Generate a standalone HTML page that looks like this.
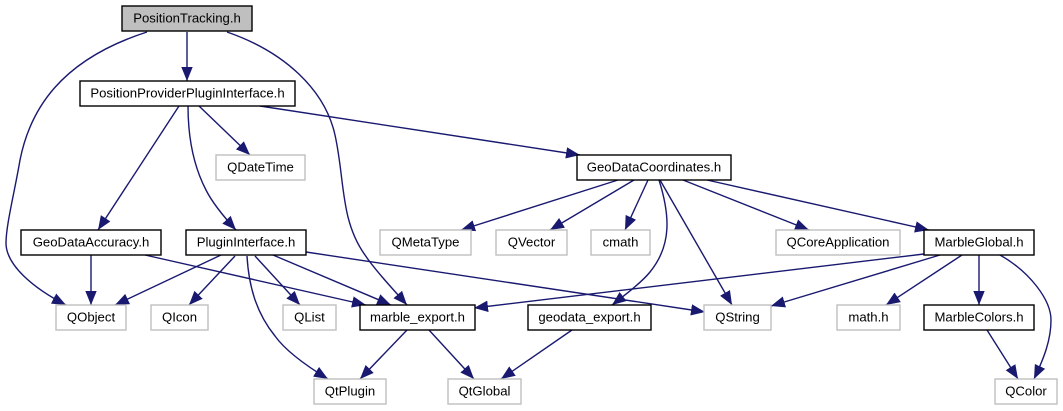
<!DOCTYPE html>
<html>
<head>
<meta charset="utf-8">
<style>
html,body{margin:0;padding:0;background:#fff;width:1063px;height:411px;overflow:hidden}
svg{display:block}
text{font-family:"Liberation Sans",sans-serif;font-size:13.15px;text-anchor:middle;fill:#000}
.n{fill:#fff;stroke:#000;stroke-width:1.4}
.g{fill:#fff;stroke:#bfbfbf;stroke-width:1.4}
.e{fill:none;stroke:#191970;stroke-width:1.4;marker-end:url(#a)}
</style>
</head>
<body>
<svg width="1063" height="411" viewBox="0 0 1063 411" xmlns="http://www.w3.org/2000/svg">
<defs>
<marker id="a" markerUnits="userSpaceOnUse" markerWidth="16" markerHeight="14" refX="14" refY="6.5" orient="auto">
<polygon points="0,0.8 14,6.5 0,12.2" fill="#191970" stroke="none"/>
</marker>
</defs>
<!-- edges -->
<path class="e" d="M187,32L187,81"/>
<path class="e" d="M147,32C60,60 30,110 20,160C15,190 6,225 6,243C6,265 33,288 66,305"/>
<path class="e" d="M227,32C285,52 325,90 335,135C345,180 340,220 365,255C375,270 392,288 407,305"/>
<path class="e" d="M260,106L580,155"/>
<path class="e" d="M199,106L250,155"/>
<path class="e" d="M179,106L98,230"/>
<path class="e" d="M188,106C188,135 193,165 206,190C213,204 224,217 236,230"/>
<path class="e" d="M91,255L91,305"/>
<path class="e" d="M145,255L366,305"/>
<path class="e" d="M221,255L115,305"/>
<path class="e" d="M235,256L189,305"/>
<path class="e" d="M255,256L300,305"/>
<path class="e" d="M273,255L391,305"/>
<path class="e" d="M306,252L705,312"/>
<path class="e" d="M247,256C249,290 258,315 275,336C285,350 305,365 328,379"/>
<path class="e" d="M407,330L360,379"/>
<path class="e" d="M429,330L474,379"/>
<path class="e" d="M572,330L501,379"/>
<path class="e" d="M618,180L461,230"/>
<path class="e" d="M634,180L550,230"/>
<path class="e" d="M648,180L625,230"/>
<path class="e" d="M659,180C670,215 672,245 650,272C642,282 625,295 612,305"/>
<path class="e" d="M660,180L732,305"/>
<path class="e" d="M683,180L809,230"/>
<path class="e" d="M707,180L929,230"/>
<path class="e" d="M924,254L474,308"/>
<path class="e" d="M940,255L771,306"/>
<path class="e" d="M962,255L886,305"/>
<path class="e" d="M979,255L979,305"/>
<path class="e" d="M1000,255C1030,272 1051,300 1051,320C1051,340 1044,358 1034,379"/>
<path class="e" d="M987,330L1018,379"/>
<!-- nodes -->
<rect x="122" y="6" width="130" height="25" fill="#bfbfbf" stroke="#000" stroke-width="1.4"/><text x="187" y="22.5">PositionTracking.h</text>
<rect class="n" x="80" y="81" width="215" height="25"/><text x="187.5" y="97.5">PositionProviderPluginInterface.h</text>
<rect class="g" x="216" y="155" width="89" height="25"/><text x="260.5" y="171.5">QDateTime</text>
<rect class="n" x="577" y="155" width="154" height="25"/><text x="654" y="171.5">GeoDataCoordinates.h</text>
<rect class="n" x="21" y="230" width="140" height="25"/><text x="91" y="246.5">GeoDataAccuracy.h</text>
<rect class="n" x="186" y="230" width="120" height="25"/><text x="246" y="246.5">PluginInterface.h</text>
<rect class="g" x="380" y="230" width="91" height="25"/><text x="425.5" y="246.5">QMetaType</text>
<rect class="g" x="496" y="230" width="71" height="25"/><text x="531.5" y="246.5">QVector</text>
<rect class="g" x="591" y="230" width="59" height="25"/><text x="620.5" y="246.5">cmath</text>
<rect class="g" x="776" y="230" width="124" height="25"/><text x="838" y="246.5">QCoreApplication</text>
<rect class="n" x="924" y="230" width="110" height="25"/><text x="979" y="246.5">MarbleGlobal.h</text>
<rect class="g" x="56" y="305" width="70" height="25"/><text x="91" y="321.5">QObject</text>
<rect class="g" x="151" y="305" width="57" height="25"/><text x="179.5" y="321.5">QIcon</text>
<rect class="g" x="283" y="305" width="53" height="25"/><text x="309.5" y="321.5">QList</text>
<rect class="n" x="360" y="305" width="115" height="25"/><text x="417.5" y="321.5">marble_export.h</text>
<rect class="n" x="528" y="305" width="123" height="25"/><text x="589.5" y="321.5">geodata_export.h</text>
<rect class="g" x="704" y="305" width="67" height="25"/><text x="737.5" y="321.5">QString</text>
<rect class="g" x="837" y="305" width="63" height="25"/><text x="868.5" y="321.5">math.h</text>
<rect class="n" x="924" y="305" width="110" height="25"/><text x="979" y="321.5">MarbleColors.h</text>
<rect class="g" x="314" y="379" width="72" height="25"/><text x="350" y="395.5">QtPlugin</text>
<rect class="g" x="448" y="379" width="73" height="25"/><text x="484.5" y="395.5">QtGlobal</text>
<rect class="g" x="995" y="379" width="62" height="25"/><text x="1026" y="395.5">QColor</text>
</svg>
</body>
</html>
